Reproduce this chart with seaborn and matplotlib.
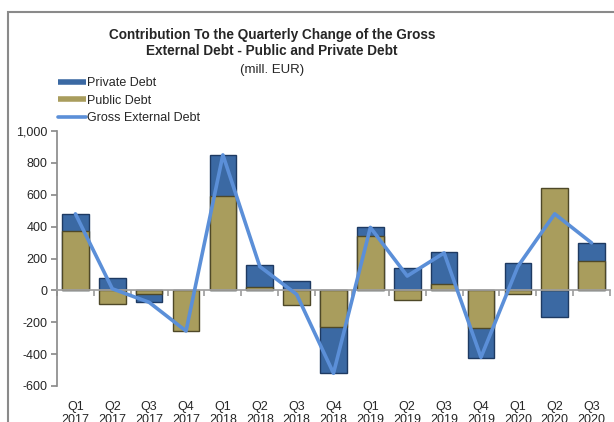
import numpy as np
import pandas as pd
import seaborn as sns
import matplotlib.pyplot as plt
from matplotlib.lines import Line2D
from matplotlib.patches import Rectangle
from matplotlib.ticker import FuncFormatter, FixedLocator

sns.set_theme(style="white")
plt.rcParams["font.family"] = ["Liberation Sans", "DejaVu Sans"]

quarters = ["Q1", "Q2", "Q3", "Q4", "Q1", "Q2", "Q3", "Q4", "Q1", "Q2", "Q3", "Q4", "Q1", "Q2", "Q3"]
years = ["2017", "2017", "2017", "2017", "2018", "2018", "2018", "2018",
         "2019", "2019", "2019", "2019", "2020", "2020", "2020"]
public_debt = [375, -85, -25, -258, 595, 20, -90, -230, 340, -58, 40, -237, -21, 644, 182]
private_debt = [105, 80, -50, 0, 255, 137, 57, -290, 60, 141, 200, -185, 172, -167, 116]
gross_debt = [480, 10, -75, -255, 850, 150, -25, -520, 395, 90, 235, -420, 150, 480, 298]

blue = "#3b69a3"
olive = "#a99d5d"
line_blue = "#5b8fd8"

df = pd.DataFrame({
    "label": [f"{q}\n{y}" for q, y in zip(quarters, years)],
    "public": public_debt,
    "private": private_debt,
    "gross": gross_debt,
})
df["pos"] = np.arange(len(df))
# Excel-style stacking: private sits on top of public when signs agree
same_sign = np.sign(df["public"]) == np.sign(df["private"])
df["private_top"] = np.where(same_sign, df["public"] + df["private"], df["private"])

fig = plt.figure(figsize=(6.14, 4.22), dpi=100)
ax = fig.add_axes([57 / 614, 36 / 422, 553 / 614, 255 / 422])

sns.barplot(data=df, x="pos", y="private_top", color=blue, width=0.72, saturation=1,
            edgecolor="#1e3a62", linewidth=1.0, ax=ax)
sns.barplot(data=df, x="pos", y="public", color=olive, width=0.72, saturation=1,
            edgecolor="#4e4828", linewidth=1.0, ax=ax)
sns.lineplot(data=df, x="pos", y="gross", color=line_blue, linewidth=2.6, ax=ax, zorder=5)

ax.set_xlim(-0.5, len(df) - 0.5)
ax.set_ylim(-600, 1000)
ax.set_yticks(range(-600, 1001, 200))
ax.yaxis.set_major_formatter(FuncFormatter(lambda v, p: f"{int(v):,}"))
ax.set_xlabel("")
ax.set_ylabel("")

for s in ["top", "right"]:
    ax.spines[s].set_visible(False)
ax.spines["left"].set_color("#8c8c8c")
ax.spines["bottom"].set_color("#a0a0a0")
ax.spines["bottom"].set_position(("data", 0))
ax.xaxis.set_major_locator(FixedLocator(np.arange(-0.5, len(df), 1.0)))
ax.set_xticklabels([])
ax.tick_params(axis="x", direction="out", length=4, color="#a0a0a0", bottom=True)
ax.tick_params(axis="y", direction="out", length=4, color="#8c8c8c", left=True,
               labelsize=9, pad=3)

for i, lab in enumerate(df["label"]):
    ax.text(i, -0.06, lab, transform=ax.get_xaxis_transform(), ha="center", va="top",
            fontsize=9, linespacing=1.05)

fig.text(0.443, 0.917, "Contribution To the Quarterly Change of the Gross",
         ha="center", va="center", fontsize=9.8, fontweight="bold")
fig.text(0.443, 0.879, "External Debt - Public and Private Debt",
         ha="center", va="center", fontsize=9.8, fontweight="bold")
fig.text(0.443, 0.834, "(mill. EUR)", ha="center", va="center", fontsize=9.5)

handles = [Line2D([], [], color=blue, lw=4, solid_capstyle="butt"),
           Line2D([], [], color=olive, lw=4, solid_capstyle="butt"),
           Line2D([], [], color=line_blue, lw=2.6)]
fig.legend(handles, ["Private Debt", "Public Debt", "Gross External Debt"],
           loc="upper left", bbox_to_anchor=(58 / 614, 1 - 77 / 422), frameon=False,
           fontsize=9, handlelength=2.2, handletextpad=0.1, labelspacing=0.45,
           borderpad=0, borderaxespad=0)

fig.add_artist(Rectangle((8 / 614, -0.1), 1.0, 1.1 - 12 / 422, transform=fig.transFigure,
                         fill=False, edgecolor="#8a8a8a", linewidth=1.5))

fig.savefig("out.png", dpi=100)
